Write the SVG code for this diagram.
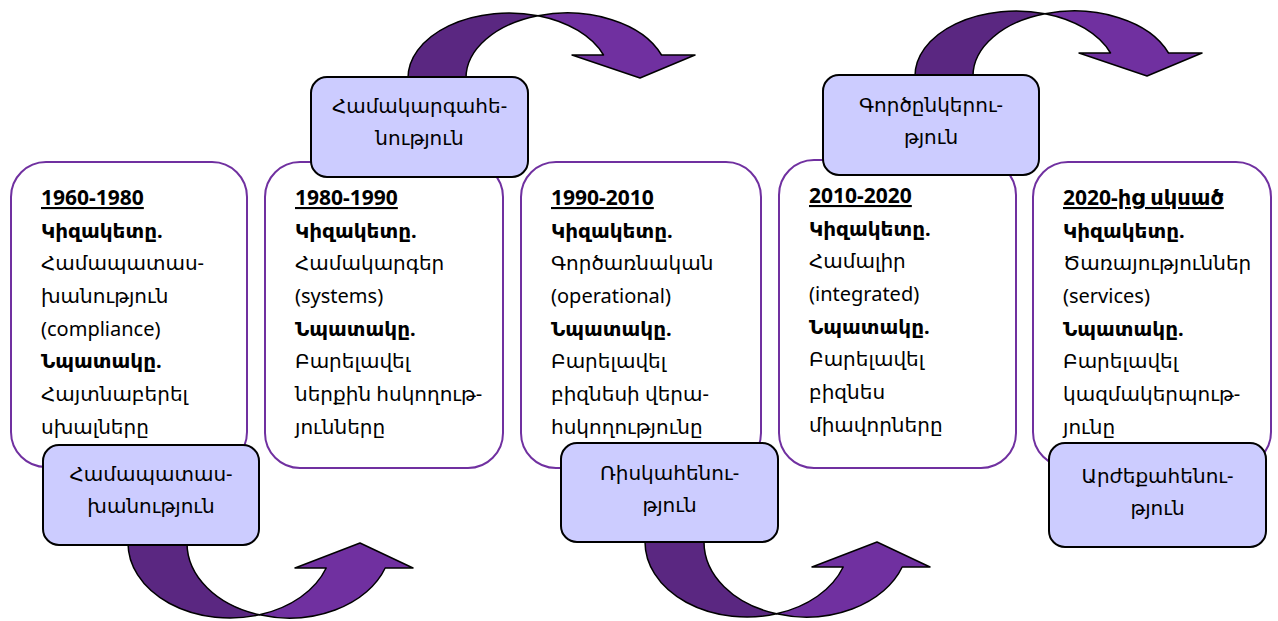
<svg xmlns="http://www.w3.org/2000/svg" width="1278" height="621" viewBox="0 0 1278 621">
<defs>
<style>
.big{fill:#FFFFFF;stroke:#7030A0;stroke-width:2}
.small{fill:#CCCCFF;stroke:#000000;stroke-width:2}
text{font-family:"Noto Sans","DejaVu Sans",sans-serif;font-size:20px;fill:#000}
.h{font-weight:bold;text-decoration:underline;font-size:21px}
.b{font-weight:bold}
.c{text-anchor:middle}
.dk{fill:#5A2781;stroke:#000;stroke-width:1.5;stroke-linejoin:round}
.lt{fill:#7030A0;stroke:#000;stroke-width:1.5;stroke-linejoin:round}
</style>
<g id="arrowDown">
<path class="dk" d="M0,0 A101 65 0 0 1 130,-62.26 A101 65 0 0 0 58,0 Z"/>
<path class="lt" d="M130,-62.26 A101 65 0 0 1 253.5,-23 L287,-23 L232,0 L164,-23 L195.5,-23 A101 65 0 0 0 130,-62.26 Z"/>
</g>
<g id="arrowUp">
<path class="dk" d="M0,0 A102 75 0 0 0 131.5,71.8 A102 75 0 0 1 59,0 Z"/>
<path class="lt" d="M131.5,71.8 A102 75 0 0 0 257.2,25 L285,25 L232,0 L167,25 L198.2,25 A102 75 0 0 1 131.5,71.8 Z"/>
</g>
</defs>

<g id="box1">
<rect class="big" x="11" y="162" width="236" height="305" rx="35"/>
<text x="41" y="205" class="h">1960-1980</text>
<text x="41" y="237.5" class="b">Կիզակետը.</text>
<text x="41" y="270">Համապատաս-</text>
<text x="41" y="303">խանություն</text>
<text x="41" y="335.5">(compliance)</text>
<text x="41" y="368" class="b">Նպատակը.</text>
<text x="41" y="401">Հայտնաբերել</text>
<text x="41" y="433.5">սխալները</text>
</g>
<g id="box2">
<rect class="big" x="265" y="162" width="238" height="306" rx="35"/>
<text x="295" y="205" class="h">1980-1990</text>
<text x="295" y="237.5" class="b">Կիզակետը.</text>
<text x="295" y="270">Համակարգեր</text>
<text x="295" y="303">(systems)</text>
<text x="295" y="335.5" class="b">Նպատակը.</text>
<text x="295" y="368">Բարելավել</text>
<text x="295" y="401">ներքին հսկողութ-</text>
<text x="295" y="433.5">յունները</text>
</g>
<g id="box3">
<rect class="big" x="521" y="162" width="240" height="306" rx="35"/>
<text x="551" y="205" class="h">1990-2010</text>
<text x="551" y="237.5" class="b">Կիզակետը.</text>
<text x="551" y="270">Գործառնական</text>
<text x="551" y="303">(operational)</text>
<text x="551" y="335.5" class="b">Նպատակը.</text>
<text x="551" y="368">Բարելավել</text>
<text x="551" y="401">բիզնեսի վերա-</text>
<text x="551" y="433.5">հսկողությունը</text>
</g>
<g id="box4">
<rect class="big" x="779" y="160" width="237" height="308" rx="35"/>
<text x="809" y="203" class="h">2010-2020</text>
<text x="809" y="235.5" class="b">Կիզակետը.</text>
<text x="809" y="268">Համալիր</text>
<text x="809" y="301">(integrated)</text>
<text x="809" y="333.5" class="b">Նպատակը.</text>
<text x="809" y="366">Բարելավել</text>
<text x="809" y="399">բիզնես</text>
<text x="809" y="431.5">միավորները</text>
</g>
<g id="box5">
<rect class="big" x="1033" y="162" width="238" height="305" rx="35"/>
<text x="1063" y="205" class="h">2020-ից սկսած</text>
<text x="1063" y="237.5" class="b">Կիզակետը.</text>
<text x="1063" y="270">Ծառայություններ</text>
<text x="1063" y="303">(services)</text>
<text x="1063" y="335.5" class="b">Նպատակը.</text>
<text x="1063" y="368">Բարելավել</text>
<text x="1063" y="401">կազմակերպութ-</text>
<text x="1063" y="433.5">յունը</text>
</g>

<g id="connectors">
<use href="#arrowDown" transform="translate(408,78)"/>
<use href="#arrowDown" transform="translate(915,76)"/>
<use href="#arrowUp" transform="translate(128,543)"/>
<use href="#arrowUp" transform="translate(645,542)"/>
</g>

<g id="s1">
<rect class="small" x="43" y="445" width="216" height="100" rx="16"/>
<text x="151" y="481" class="c">Համապատաս-</text>
<text x="151" y="513" class="c">խանություն</text>
</g>
<g id="s2">
<rect class="small" x="311" y="77" width="217" height="100" rx="16"/>
<text x="419.5" y="113" class="c">Համակարգահե-</text>
<text x="419.5" y="145" class="c">նություն</text>
</g>
<g id="s3">
<rect class="small" x="561" y="443" width="217" height="99" rx="16"/>
<text x="669.5" y="480" class="c">Ռիսկահենու-</text>
<text x="669.5" y="512" class="c">թյուն</text>
</g>
<g id="s4">
<rect class="small" x="823" y="75" width="216" height="100" rx="16"/>
<text x="931" y="112" class="c">Գործընկերու-</text>
<text x="931" y="144" class="c">թյուն</text>
</g>
<g id="s5">
<rect class="small" x="1049" y="443" width="217" height="104" rx="16"/>
<text x="1157.5" y="483" class="c">Արժեքահենու-</text>
<text x="1157.5" y="515" class="c">թյուն</text>
</g>
</svg>
